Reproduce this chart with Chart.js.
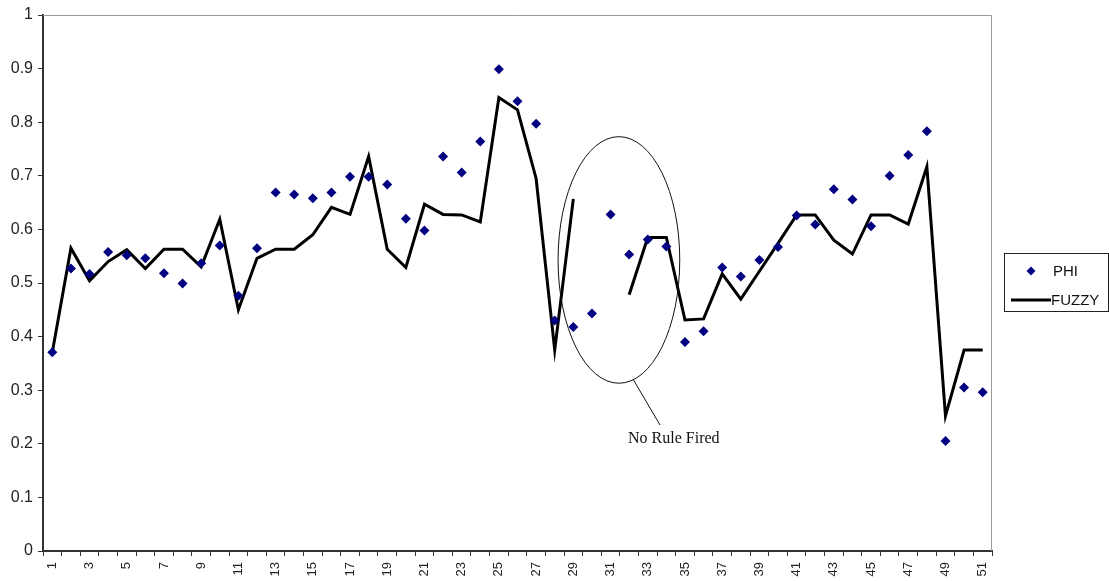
<!DOCTYPE html>
<html><head><meta charset="utf-8">
<script src="https://cdn.jsdelivr.net/npm/chart.js@4.4.1/dist/chart.umd.min.js"></script>
<style>html,body{margin:0;padding:0;background:#fff;overflow:hidden}</style>
</head><body>
<canvas id="c" width="1109" height="581"></canvas>
<script>
const categories = ['1','2','3','4','5','6','7','8','9','10','11','12','13','14','15','16','17','18','19','20','21','22','23','24','25','26','27','28','29','30','31','32','33','34','35','36','37','38','39','40','41','42','43','44','45','46','47','48','49','50','51'];
const phi = [0.371,0.527,0.517,0.558,0.552,0.546,0.518,0.499,0.537,0.570,
             0.476,0.565,0.669,0.665,0.658,0.669,0.698,0.698,0.684,0.620,
             0.598,0.736,0.706,0.764,0.899,0.839,0.797,0.430,0.418,0.443,
             0.628,0.553,0.581,0.568,0.390,0.410,0.529,0.512,0.543,0.567,
             0.626,0.609,0.675,0.656,0.606,0.700,0.739,0.783,0.205,0.305,0.296];
const fuzzy = [0.371,0.565,0.504,0.540,0.562,0.527,0.563,0.563,0.530,0.619,
               0.450,0.546,0.563,0.563,0.590,0.641,0.628,0.736,0.563,0.529,
               0.647,0.628,0.627,0.614,0.846,0.823,0.695,0.375,0.657,null,
               null,0.478,0.585,0.585,0.431,0.433,0.517,0.470,0.522,0.574,
               0.627,0.627,0.580,0.554,0.627,0.627,0.610,0.717,0.252,0.375,0.375];
const yTicks = ['0','0.1','0.2','0.3','0.4','0.5','0.6','0.7','0.8','0.9','1'];
const seriesNames = ['PHI','FUZZY'];
const noteText = 'No Rule Fired';

const decor = {
  id: 'decor',
  beforeDatasetsDraw(chart) {
    const {ctx, chartArea: a} = chart;
    ctx.save();
    ctx.strokeStyle = '#9a9a9a';
    ctx.lineWidth = 1;
    ctx.beginPath();
    ctx.moveTo(a.left, a.top + 0.5);
    ctx.lineTo(a.right - 0.5, a.top + 0.5);
    ctx.lineTo(a.right - 0.5, a.bottom);
    ctx.stroke();
    ctx.restore();
  },
  afterDatasetsDraw(chart) {
    const {ctx, scales: {x, y}} = chart;
    const cx = x.getPixelForValue(30.45), cy = y.getPixelForValue(0.543);
    const rx = x.getPixelForValue(30.45 + 3.27) - cx;
    const ry = cy - y.getPixelForValue(0.543 + 0.230);
    ctx.save();
    ctx.strokeStyle = '#111';
    ctx.lineWidth = 1;
    ctx.beginPath();
    ctx.ellipse(cx, cy, rx, ry, 0, 0, Math.PI * 2);
    ctx.stroke();
    ctx.beginPath();
    ctx.moveTo(x.getPixelForValue(31.22), y.getPixelForValue(0.320));
    ctx.lineTo(x.getPixelForValue(32.66), y.getPixelForValue(0.235));
    ctx.stroke();
    ctx.fillStyle = '#111';
    ctx.font = '16px "Liberation Serif"';
    ctx.textAlign = 'center';
    ctx.textBaseline = 'middle';
    ctx.fillText(noteText, x.getPixelForValue(33.4), y.getPixelForValue(0.209));
    ctx.restore();
  },
  afterDraw(chart) {
    const {ctx, chartArea: a} = chart;
    const L = a.right + 12, T = 253, W = 104, H = 58;
    ctx.save();
    ctx.strokeStyle = '#222';
    ctx.lineWidth = 1;
    ctx.strokeRect(L + 0.5, T + 0.5, W, H);
    const dx = L + 27, dy = T + 18;
    ctx.fillStyle = '#000080';
    ctx.beginPath();
    ctx.moveTo(dx - 4.5, dy); ctx.lineTo(dx, dy - 4.5); ctx.lineTo(dx + 4.5, dy); ctx.lineTo(dx, dy + 4.5);
    ctx.closePath(); ctx.fill();
    ctx.strokeStyle = '#000';
    ctx.lineWidth = 3;
    ctx.beginPath();
    ctx.moveTo(L + 7, T + 47); ctx.lineTo(L + 47, T + 47);
    ctx.stroke();
    ctx.fillStyle = '#111';
    ctx.font = '15px "Liberation Sans"';
    ctx.textAlign = 'left';
    ctx.textBaseline = 'middle';
    ctx.fillText(seriesNames[0], L + 49, dy + 1);
    ctx.fillText(seriesNames[1], L + 47, T + 48);
    ctx.restore();
  }
};

new Chart(document.getElementById('c'), {
  type: 'line',
  data: {
    labels: categories,
    datasets: [
      {
        label: seriesNames[0],
        data: phi,
        showLine: false,
        pointStyle: 'rectRot',
        pointRadius: 5,
        pointBackgroundColor: '#000080',
        pointBorderColor: '#000080',
        pointBorderWidth: 0,
        backgroundColor: '#000080',
        borderColor: '#000080'
      },
      {
        label: seriesNames[1],
        data: fuzzy,
        borderColor: '#000',
        borderWidth: 3,
        pointRadius: 0,
        tension: 0,
        spanGaps: false,
        fill: false
      }
    ]
  },
  options: {
    responsive: false,
    animation: false,
    events: [],
    layout: {padding: {top: 15, right: 117, left: 0, bottom: 0}},
    plugins: {legend: {display: false}, tooltip: {enabled: false}},
    scales: {
      x: {
        offset: true,
        grid: {display: true, drawOnChartArea: false, drawTicks: true, tickLength: 5, offset: true, color: '#333', lineWidth: 1},
        border: {display: true, color: '#333', width: 2},
        ticks: {
          autoSkip: false, minRotation: 90, maxRotation: 90, padding: 6,
          color: '#222', font: {family: '"Liberation Sans"', size: 13},
          callback: (v, i) => (i % 2 === 0 ? categories[i] : '')
        },
        afterFit: s => { s.height = 30; }
      },
      y: {
        min: 0, max: 1,
        grid: {display: true, drawOnChartArea: false, drawTicks: true, tickLength: 5, color: '#333', lineWidth: 1},
        border: {display: true, color: '#333', width: 2},
        ticks: {
          stepSize: 0.1, padding: 5,
          color: '#222', font: {family: '"Liberation Sans"', size: 16},
          callback: (v, i) => yTicks[i]
        },
        afterFit: s => { s.width = 43; }
      }
    }
  },
  plugins: [decor]
});
</script>
</body></html>
